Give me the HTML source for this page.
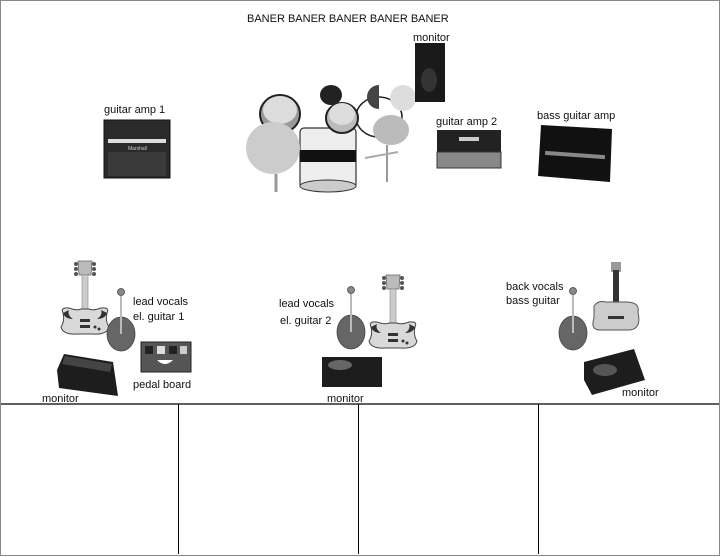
<!DOCTYPE html>
<html><head><meta charset="utf-8"><style>
html,body{margin:0;padding:0;background:#fff;}
svg{display:block;}
text{font-family:"Liberation Sans",sans-serif;font-size:11px;fill:#111;}
</style></head><body>
<svg width="720" height="557" viewBox="0 0 720 557" xmlns="http://www.w3.org/2000/svg">
<defs>
<g id="guitar">
  <path d="M-7,0 L7,0 L6,14 L-6,14 Z" fill="#bbb" stroke="#666" stroke-width="0.8"/>
  <circle cx="-9" cy="3" r="2" fill="#555"/><circle cx="-9" cy="8" r="2" fill="#555"/><circle cx="-9" cy="13" r="2" fill="#555"/>
  <circle cx="9" cy="3" r="2" fill="#555"/><circle cx="9" cy="8" r="2" fill="#555"/><circle cx="9" cy="13" r="2" fill="#555"/>
  <rect x="-3" y="14" width="6" height="36" fill="#ccc" stroke="#888" stroke-width="0.6"/>
  <path d="M-22,52 Q-25,46 -16,47 Q-8,50 -4,48 L4,48 Q8,50 16,47 Q25,46 22,52 Q20,60 24,66 Q22,74 8,73 L-8,73 Q-22,74 -24,66 Q-20,60 -22,52 Z" fill="#d9d9d9" stroke="#444" stroke-width="1"/>
  <path d="M-22,52 Q-20,58 -12,58 Q-18,54 -16,49 Z" fill="#333"/>
  <path d="M22,52 Q20,58 12,58 Q18,54 16,49 Z" fill="#333"/>
  <rect x="-5" y="58" width="10" height="3" fill="#333"/><rect x="-5" y="64" width="10" height="3" fill="#333"/>
  <circle cx="10" cy="66" r="1.5" fill="#333"/><circle cx="14" cy="68" r="1.5" fill="#333"/>
</g>
<g id="mic">
  <ellipse cx="0" cy="42" rx="14" ry="17" fill="#666" stroke="#444" stroke-width="0.8"/>
  <line x1="0" y1="4" x2="0" y2="42" stroke="#bbb" stroke-width="2"/>
  <circle cx="0" cy="0" r="3.5" fill="#888" stroke="#444" stroke-width="0.8"/>
</g>
</defs>

<rect x="0.5" y="0.5" width="719" height="555" fill="none" stroke="#888" stroke-width="1"/>
<line x1="1" y1="404" x2="719" y2="404" stroke="#000" stroke-width="1.2"/>
<line x1="178.5" y1="404" x2="178.5" y2="554" stroke="#000" stroke-width="1"/>
<line x1="358.5" y1="404" x2="358.5" y2="554" stroke="#000" stroke-width="1"/>
<line x1="538.5" y1="404" x2="538.5" y2="554" stroke="#000" stroke-width="1"/>

<text x="247" y="22">BANER BANER BANER BANER BANER</text>

<text x="104" y="113">guitar amp 1</text>
<rect x="104" y="120" width="66" height="58" fill="#2a2a2a" stroke="#111"/>
<rect x="108" y="139" width="58" height="4" fill="#ddd"/>
<rect x="108" y="152" width="58" height="24" fill="#3a3a3a"/>
<text x="128" y="150" style="font-size:5px;fill:#ccc">Marshall</text>

<ellipse cx="280" cy="114" rx="20" ry="19" fill="#999" stroke="#222" stroke-width="2"/>
<ellipse cx="280" cy="110" rx="17" ry="14" fill="#ddd"/>
<ellipse cx="331" cy="95" rx="11" ry="10" fill="#222"/>
<ellipse cx="379" cy="117" rx="23" ry="20" fill="#fff" stroke="#222" stroke-width="1.5"/>
<path d="M379,85 A12,12 0 0 0 379,109 Z" fill="#444"/>
<ellipse cx="403" cy="98" rx="13" ry="13" fill="#ddd"/>
<rect x="300" y="128" width="56" height="60" rx="4" fill="#eee" stroke="#333" stroke-width="1.2"/>
<rect x="300" y="150" width="56" height="12" fill="#111"/>
<ellipse cx="328" cy="186" rx="28" ry="6" fill="#ccc" stroke="#333"/>
<ellipse cx="342" cy="118" rx="16" ry="15" fill="#bbb" stroke="#222" stroke-width="2"/>
<ellipse cx="342" cy="114" rx="13" ry="11" fill="#ddd"/>
<ellipse cx="273" cy="148" rx="27" ry="26" fill="#ccc"/>
<line x1="276" y1="174" x2="276" y2="192" stroke="#999" stroke-width="3"/>
<ellipse cx="391" cy="130" rx="18" ry="15" fill="#bbb"/>
<line x1="387" y1="145" x2="387" y2="182" stroke="#999" stroke-width="2"/>
<line x1="365" y1="158" x2="398" y2="152" stroke="#aaa" stroke-width="2"/>

<text x="413" y="41">monitor</text>
<rect x="415" y="43" width="30" height="59" fill="#1a1a1a"/>
<ellipse cx="429" cy="80" rx="8" ry="12" fill="#333"/>

<text x="436" y="125">guitar amp 2</text>
<rect x="437" y="130" width="64" height="22" fill="#222"/>
<rect x="437" y="152" width="64" height="16" fill="#888" stroke="#333"/>
<rect x="459" y="137" width="20" height="4" fill="#ccc"/>

<text x="537" y="119">bass guitar amp</text>
<path d="M541,125 L612,129 L610,182 L538,176 Z" fill="#111"/>
<rect x="545" y="153" width="60" height="4" fill="#888" transform="rotate(4 575 155)"/>

<use href="#guitar" x="85" y="261"/>
<use href="#mic" x="121" y="292"/>
<text x="133" y="305">lead vocals</text>
<text x="133" y="320">el. guitar 1</text>
<rect x="141" y="342" width="50" height="30" fill="#555" stroke="#222"/>
<rect x="145" y="346" width="8" height="8" fill="#222"/><rect x="157" y="346" width="8" height="8" fill="#ddd"/><rect x="169" y="346" width="8" height="8" fill="#222"/><rect x="180" y="346" width="7" height="8" fill="#ccc"/>
<path d="M157,360 Q165,368 173,360 Z" fill="#fff"/>
<text x="133" y="388">pedal board</text>
<path d="M64,354 L113,362 L118,396 L59,388 L57,370 Z" fill="#1d1d1d"/>
<path d="M65,356 L112,364 L110,372 L62,364 Z" fill="#444"/>
<text x="42" y="402">monitor</text>

<use href="#mic" x="351" y="290"/>
<text x="279" y="307">lead vocals</text>
<text x="280" y="324">el. guitar 2</text>
<use href="#guitar" x="393" y="275"/>
<rect x="322" y="357" width="60" height="30" fill="#1d1d1d"/>
<ellipse cx="340" cy="365" rx="12" ry="5" fill="#666"/>
<text x="327" y="402">monitor</text>

<text x="506" y="290">back vocals</text>
<text x="506" y="304">bass guitar</text>
<use href="#mic" x="573" y="291"/>
<g>
  <rect x="611" y="262" width="10" height="10" fill="#999"/>
  <rect x="613" y="270" width="6" height="36" fill="#333"/>
  <path d="M594,306 Q598,300 606,302 L626,302 Q640,302 638,312 Q642,330 628,330 L600,330 Q590,330 594,318 Z" fill="#ccc" stroke="#555"/>
  <rect x="608" y="316" width="16" height="3" fill="#333"/>
</g>
<path d="M584,362 L634,349 L645,380 L592,395 L584,380 Z" fill="#1d1d1d"/>
<ellipse cx="605" cy="370" rx="12" ry="6" fill="#555"/>
<text x="622" y="396">monitor</text>
</svg>
</body></html>
